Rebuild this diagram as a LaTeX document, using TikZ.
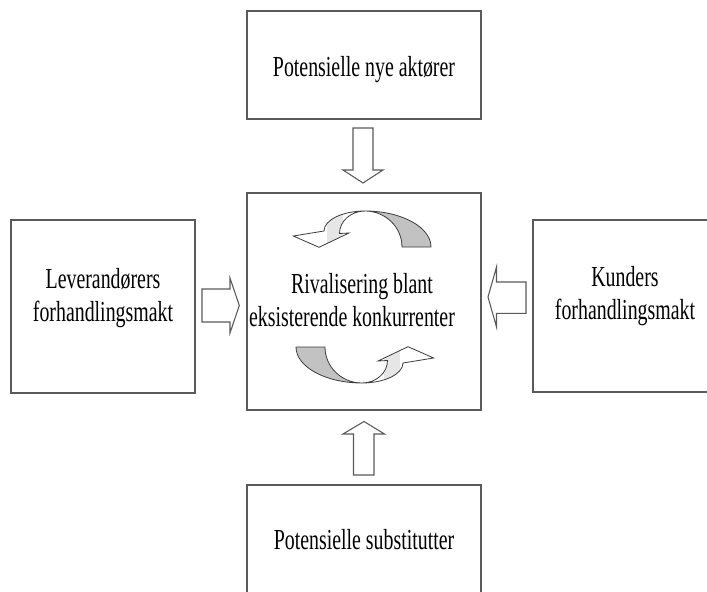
\documentclass[tikz,border=0pt]{standalone}
\usepackage{fontspec}
\setmainfont{Liberation Serif}[FakeStretch=0.685]

\definecolor{edgegray}{HTML}{5A5A5A}
\definecolor{ribbondark}{HTML}{C2C2C2}
\definecolor{ribbonlight}{HTML}{E6E6E6}
\definecolor{ribbonline}{HTML}{3C3C3C}

% one circular "rivalry" ribbon arrow, drawn around its centre point
\tikzset{
  cyclearrow/.pic={
    \def\ribbonfront{(1.5,-86) .. controls (-21.1,-86) and (-39.5,-77) .. (-39.5,-66)
      -- (-70.2,-61) -- (-44.5,-49.7) -- (-14.5,-64) -- (-24,-63.5)
      .. controls (-24,-75.9) and (-12.6,-86) .. (1.5,-86) -- cycle}
    % back side of the ribbon
    \filldraw[fill=ribbondark, draw=ribbonline, line width=0.6pt]
      (67.5,-50) .. controls (67.5,-69.9) and (37.95,-86) .. (1.5,-86)
      .. controls (21.9,-86) and (38.5,-69.9) .. (38.5,-50) -- cycle;
    % front side with the arrow head
    \fill[white] \ribbonfront;
    \begin{scope}
      \clip \ribbonfront;
      \fill[ribbonlight] (-36.5,-90) rectangle (-20.5,-45);
    \end{scope}
    \draw[ribbonline, line width=0.6pt, line join=miter] \ribbonfront;
  }
}

\begin{document}
\begin{tikzpicture}[x=0.75pt, y=-0.75pt,
  box/.style={draw=edgegray, line width=1.1pt, fill=white, inner sep=0pt},
  boxtext/.style={inner sep=0pt, align=center, text=black,
    font=\fontsize{21.75}{25.05}\selectfont},
  blockarrow/.style={draw=edgegray, line width=0.8pt, fill=white, line join=miter},
]
\useasboundingbox (0,0) rectangle (707,592);
\clip (0,0) rectangle (707,592);

% the five forces
\node[box, minimum width=175.5pt, minimum height=81pt]     (entrants)  at (364,65)    {};
\node[box, minimum width=175.5pt, minimum height=162.75pt] (rivalry)   at (364,301.5) {};
\node[box, minimum width=138pt,   minimum height=129.75pt] (suppliers) at (103,306.5) {};
\node[box, minimum width=138pt,   minimum height=129pt]    (buyers)    at (625,306)   {};
\node[box, minimum width=175.5pt, minimum height=81pt]     (substitutes) at (364,539) {};

\node[boxtext] (entrantsText)    at (364,69.9) {Potensielle nye aktører};
\node[boxtext] (rivalryText)     at (362,300)  {Rivalisering blant\\eksisterende konkurrenter\hspace*{15pt}};
\node[boxtext] (suppliersText)   at (103,298)  {Leverandørers\\forhandlingsmakt};
\node[boxtext] (buyersText)      at (625,296)  {Kunders\\forhandlingsmakt};
\node[boxtext] (substitutesText) at (364,540)  {Potensielle substitutter};

% block arrows pointing at the rivalry box
\draw[blockarrow] (353,128) -- (373,128) -- (373,170) -- (383,170) -- (363,183)
  -- (343,170) -- (353,170) -- cycle;
\draw[blockarrow] (353.5,475) -- (374,475) -- (374,434) -- (384.5,434) -- (364,421.5)
  -- (343,434) -- (353.5,434) -- cycle;
\draw[blockarrow] (202,289) -- (230,289) -- (230,278) -- (239.3,305.5) -- (230,333)
  -- (230,322) -- (202,322) -- cycle;
\draw[blockarrow] (526,282) -- (496.5,282) -- (496.5,267) -- (488,297) -- (496.5,327)
  -- (496.5,313.3) -- (526,313.3) -- cycle;

% the two circling arrows inside the rivalry box
\pic at (363.5,297) {cyclearrow};
\pic[rotate=180] at (363.5,297) {cyclearrow};
\end{tikzpicture}
\end{document}
